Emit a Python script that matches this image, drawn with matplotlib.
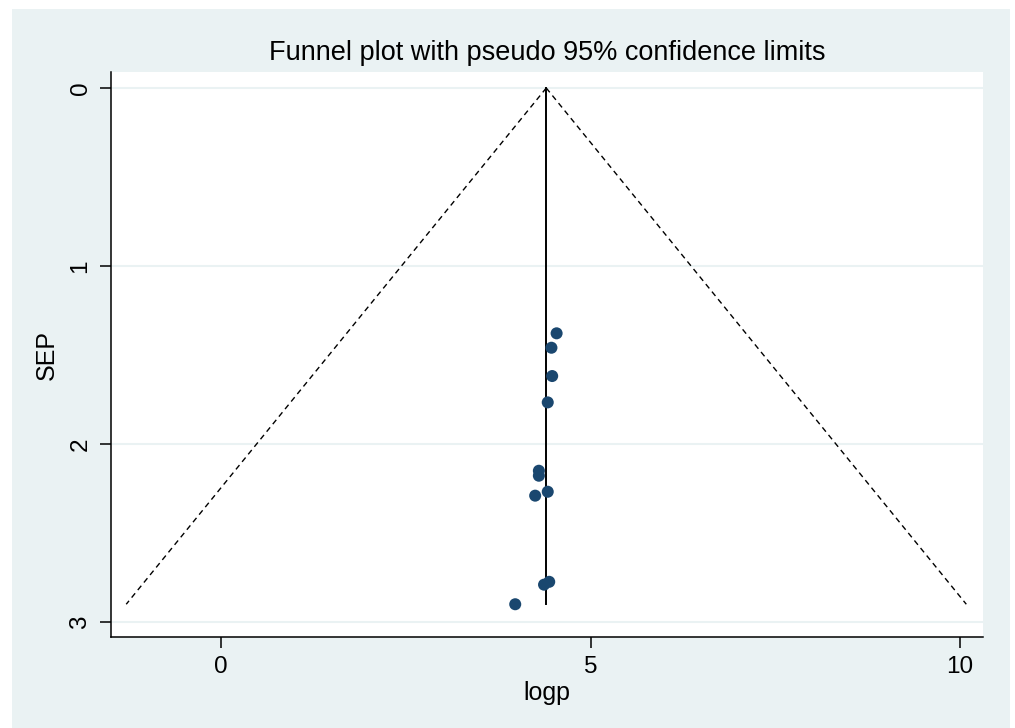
import matplotlib
matplotlib.use("Agg")
import matplotlib.pyplot as plt
from matplotlib.patches import Rectangle
import numpy as np

plt.rcParams["font.family"] = ["Liberation Sans", "DejaVu Sans"]

# 研究點（logp, SEP）
logp = [4.54, 4.47, 4.48, 4.42, 4.30, 4.30, 4.25, 4.42, 4.44, 4.37, 3.98]
sep = [1.378, 1.459, 1.618, 1.766, 2.150, 2.178, 2.290, 2.268, 2.774, 2.790, 2.900]

pooled = 4.40          # 合併估計值
se_max = 2.90          # 漏斗底部
z = 1.96

bg = "#eaf2f3"
navy = "#1a476f"

fig = plt.figure(figsize=(10.15, 7.28), dpi=100, facecolor="white")
fig.add_artist(Rectangle((12 / 1015, 0), 998 / 1015, 719 / 728,
                         transform=fig.transFigure, facecolor=bg,
                         edgecolor="none", zorder=-10))

ax = fig.add_axes([111 / 1015, 91 / 728, 872 / 1015, 565 / 728])
ax.set_zorder(1)
ax.set_facecolor("white")

# 95% 虛擬信賴界限
se_line = np.array([0, se_max])
ax.plot(pooled - z * se_line, se_line, color="black", lw=1.0,
        linestyle=(0, (4, 3)), zorder=2)
ax.plot(pooled + z * se_line, se_line, color="black", lw=1.0,
        linestyle=(0, (4, 3)), zorder=2)
ax.plot([pooled, pooled], [0, se_max], color="black", lw=1.4, zorder=3)

ax.scatter(logp, sep, s=75, color=navy, edgecolors="none", zorder=4)

ax.set_xlim(-1.49, 10.31)
ax.set_ylim(3.084, -0.09)
ax.set_xticks([0, 5, 10])
ax.set_yticks([0, 1, 2, 3])
ax.set_yticklabels(["0", "1", "2", "3"], rotation=90, va="center")
ax.tick_params(axis="both", labelsize=17.5, length=8, width=1.1, color="black",
               pad=6)
ax.grid(axis="y", color=bg, lw=1.5, zorder=1)
ax.set_axisbelow(True)

for s in ["top", "right"]:
    ax.spines[s].set_visible(False)
for s in ["left", "bottom"]:
    ax.spines[s].set_linewidth(1.1)

ax.set_xlabel("logp", fontsize=18, labelpad=2)
ax.set_ylabel("SEP", fontsize=18, labelpad=8)
ax.set_title("Funnel plot with pseudo 95% confidence limits", fontsize=19.5,
             pad=9)

fig.savefig("out.png", dpi=100, facecolor=fig.get_facecolor())
